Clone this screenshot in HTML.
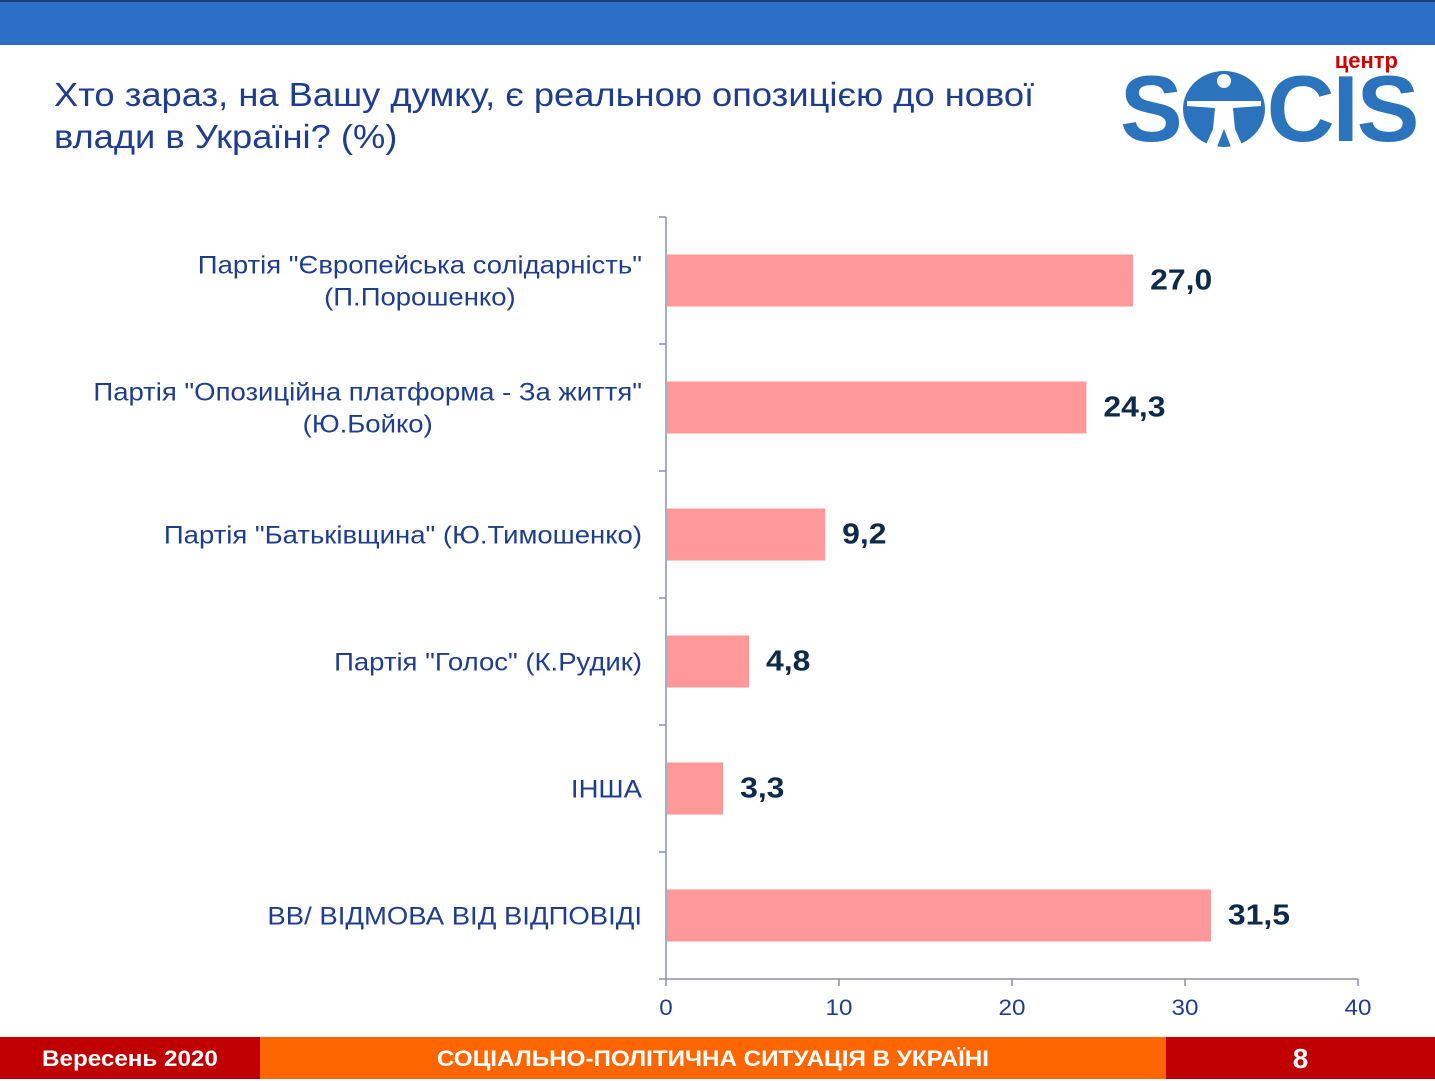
<!DOCTYPE html>
<html><head><meta charset="utf-8"><style>
body{margin:0;width:1435px;height:1079px;position:relative;background:#fff;font-family:"Liberation Sans",sans-serif;overflow:hidden}
.abs{position:absolute}
.sx{display:inline-block;transform:scaleX(1.1)}
</style></head><body>
<div class="abs" style="left:0;top:0;width:1435px;height:45px;background:#2b6fc6;border-top:2px solid #1a3f7a;box-sizing:border-box"></div>
<div class="abs" style="left:54px;top:74px;width:900px;font-size:33px;line-height:42px;color:#1f3d8f;transform:scaleX(1.1);transform-origin:left top">Хто зараз, на Вашу думку, є реальною опозицією до нової<br>влади в Україні? (%)</div>
<div class="abs" style="left:1120px;top:48px;width:300px;height:105px">
 <div class="abs" style="right:22px;top:0;color:#d40000;font-weight:bold;font-size:22px">центр</div>
 <div class="abs" style="left:0;top:14px;color:#2b74bd;font-weight:900;font-size:94px;letter-spacing:-2px;line-height:94px;white-space:nowrap">S<span style="display:inline-block;width:82px;height:76px;border-radius:50%;background:#2b74bd;vertical-align:-6px;margin:0 2px;position:relative"><svg width="82" height="76" style="position:absolute;left:0;top:0"><circle cx="41" cy="10" r="7" fill="#fff"/><path d="M4 30 L78 30 L78 35 L50 37 L52 58 L60 76 L48 76 L41 58 L34 76 L22 76 L30 58 L32 37 L4 35Z" fill="#fff"/></svg></span>CIS</div>
</div>
<svg class="abs" style="left:0;top:0" width="1435" height="1037">
<g id="g"></g>
</svg>
<div class="abs" style="left:0;top:1037px;width:260px;height:42px;background:#c00000;color:#fff;font-weight:bold;font-size:22px;line-height:44px;text-align:center"><span class="sx">Вересень 2020</span></div>
<div class="abs" style="left:260px;top:1037px;width:906px;height:42px;background:#ff6600;color:#fff;font-weight:bold;font-size:22px;line-height:44px;text-align:center"><span class="sx">СОЦІАЛЬНО-ПОЛІТИЧНА СИТУАЦІЯ В УКРАЇНІ</span></div>
<div class="abs" style="left:1166px;top:1037px;width:269px;height:42px;background:#c00000;color:#fff;font-weight:bold;font-size:28px;line-height:44px;text-align:center">8</div>
<script>
const categories=[['Партія "Європейська солідарність"','(П.Порошенко)'],['Партія "Опозиційна платформа - За життя"','(Ю.Бойко)'],['Партія "Батьківщина" (Ю.Тимошенко)'],['Партія "Голос" (К.Рудик)'],['ІНША'],['ВВ/ ВІДМОВА ВІД ВІДПОВІДІ']];
const values=[27.0,24.3,9.2,4.8,3.3,31.5];
const ticks=[0,10,20,30,40];
const NS='http://www.w3.org/2000/svg',g=document.getElementById('g');
const x0=666,x1=1358,yTop=217,yBot=979,band=(yBot-yTop)/categories.length;
const X=v=>x0+(x1-x0)*v/40;
function el(t,a,txt){const e=document.createElementNS(NS,t);for(const k in a)e.setAttribute(k,a[k]);if(txt!=null)e.textContent=txt;g.appendChild(e);return e;}
function stretch(e){const w=e.getComputedTextLength();e.setAttribute('textLength',w*1.1);e.setAttribute('lengthAdjust','spacingAndGlyphs');return w*1.1;}
let ax=el('line',{x1:x0,y1:yTop,x2:x0,y2:yBot,stroke:'#8a8fb0','stroke-width':1.5});

let bx=el('line',{x1:x0,y1:yBot,x2:x1,y2:yBot,stroke:'#8a8fb0','stroke-width':1.5});

for(let i=0;i<=categories.length;i++){el('line',{x1:x0-7,x2:x0,y1:yTop+i*band,y2:yTop+i*band,stroke:'#8a8fb0','stroke-width':1.5});}
ticks.forEach(t=>{el('line',{x1:X(t),x2:X(t),y1:yBot,y2:yBot+7,stroke:'#8a8fb0','stroke-width':1.5});
 const l=el('text',{x:X(t),y:yBot+36,'text-anchor':'middle','font-size':22,fill:'#1f3d8f'},t);
 stretch(l);
 });
categories.forEach((c,i)=>{const cy=yTop+band*(i+0.5);
 const r=el('rect',{x:x0+1,y:cy-26,width:X(values[i])-x0-1,height:52,fill:'#ff9999'});
 
 const v=el('text',{x:X(values[i])+17,y:cy+9,'font-size':29,'font-weight':'bold',fill:'#0d2a4a'},values[i].toFixed(1).replace('.',','));
 stretch(v);
 
 let firstW=0;
 c.forEach((line,j)=>{const yy=cy+9+(j-(c.length-1)/2)*32;
  const t=el('text',{x:x0-24,y:yy,'text-anchor':'end','font-size':25,fill:'#1f3d8f'},line);
  const w=stretch(t);
  if(j==0)firstW=w;
  else{t.setAttribute('x',x0-24-firstW/2);t.setAttribute('text-anchor','middle');}
  });
});
</script>
</body></html>
